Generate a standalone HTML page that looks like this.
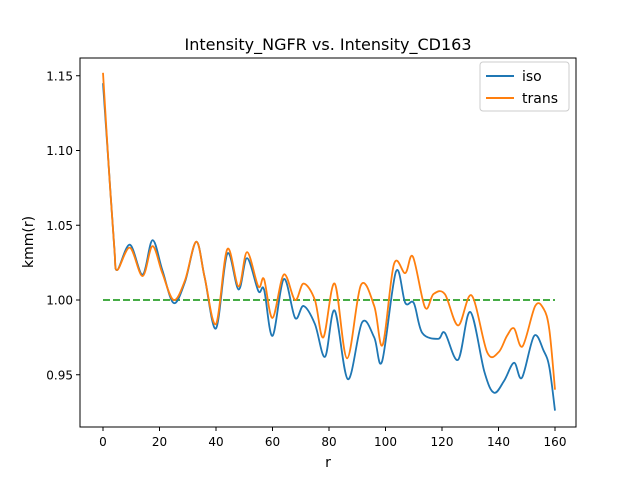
<!DOCTYPE html>
<html><head><meta charset="utf-8"><style>
body{margin:0;background:#fff;font-family:"Liberation Sans","DejaVu Sans",sans-serif}
</style></head><body>
<svg id="chart" width="640" height="480" xmlns="http://www.w3.org/2000/svg" font-family="DejaVu Sans, Liberation Sans, sans-serif">
<rect width="640" height="480" fill="#fff"/>
<text x="328" y="50" text-anchor="middle" font-size="16">Intensity_NGFR vs. Intensity_CD163</text>
<g id="grid"></g>
<g id="series"></g>
<rect x="80" y="58" width="496" height="369" fill="none" stroke="#000" stroke-width="1"/>
<text x="328" y="467" text-anchor="middle" font-size="14">r</text>
<text transform="translate(33,242) rotate(-90)" text-anchor="middle" font-size="14">kmm(r)</text>
<g>
<rect x="480" y="62" width="89" height="49" rx="3" fill="#fff" stroke="#ccc"/>
<line x1="486" y1="76" x2="514" y2="76" stroke="#1f77b4" stroke-width="2"/>
<text x="522" y="81" font-size="14">iso</text>
<line x1="486" y1="98" x2="514" y2="98" stroke="#ff7f0e" stroke-width="2"/>
<text x="522" y="103" font-size="14">trans</text>
</g>
</svg>
<script>
const xTicks=[0,20,40,60,80,100,120,140,160];
const yTicks=[0.95,1.00,1.05,1.10,1.15];
const isoR=[0,2,4,5,9.5,14,17.5,21,25,29,33,36,40,44,48,51,55,57,60,64,68,71,75,78.6,82,86.7,91.7,96,98.8,103.7,107,110,113,118.6,121,125.7,130,135,138.4,142,145.5,148.3,152.6,156,158,160];
const isoV=[1.145,1.09,1.035,1.02,1.037,1.017,1.040,1.020,0.998,1.012,1.039,1.015,0.981,1.031,1.007,1.028,1.006,1.007,0.976,1.014,0.988,0.996,0.984,0.962,0.993,0.947,0.985,0.975,0.959,1.019,0.998,0.998,0.978,0.974,0.978,0.960,0.992,0.952,0.938,0.946,0.958,0.948,0.976,0.966,0.955,0.926];
const transR=[0,2,4,5,9.5,14,17.5,21,25,29,33,36,40,44,48,51,55,57,60,64,68,71,75,78,82,86.4,91.3,96,99,103,107,109.7,114,117,121,125.7,130.5,136,140,143,145.5,148.5,153,156,158,160];
const transV=[1.152,1.09,1.035,1.02,1.035,1.016,1.036,1.018,1.0,1.013,1.039,1.015,0.984,1.034,1.009,1.032,1.009,1.014,0.988,1.017,1.0,1.011,1.0,0.975,1.011,0.961,1.010,0.996,0.970,1.024,1.018,1.029,0.995,1.004,1.004,0.983,1.003,0.965,0.965,0.976,0.981,0.969,0.996,0.994,0.98,0.940];
const refR=[0,160];
const refV=[1.0,1.0];
const NS="http://www.w3.org/2000/svg";
const xs=r=>103+(r/160)*452;
const ys=v=>300-(v-1)*1495;
const grid=document.getElementById('grid');
const ser=document.getElementById('series');
function mk(tag,attrs,parent){const e=document.createElementNS(NS,tag);for(const k in attrs)e.setAttribute(k,attrs[k]);parent.appendChild(e);return e;}
xTicks.forEach(t=>{
  const l=mk('line',{x1:xs(t),x2:xs(t),y1:427,y2:431,stroke:'#000'},grid);
  
  
  const tx=mk('text',{x:xs(t),y:446,'text-anchor':'middle','font-size':12},grid);
  tx.textContent=t;
  
  
});
yTicks.forEach(t=>{
  const l=mk('line',{x1:76,x2:80,y1:ys(t),y2:ys(t),stroke:'#000'},grid);
  
  
  const tx=mk('text',{x:73,y:ys(t)+4.5,'text-anchor':'end','font-size':12},grid);
  tx.textContent=t.toFixed(2);
  
  
});
function smooth(R,V){
  const p=R.map((r,i)=>[xs(r),ys(V[i])]);
  let d='M'+p[0][0]+','+p[0][1];
  for(let i=0;i<p.length-1;i++){
    const p0=p[i-1]||p[i],p1=p[i],p2=p[i+1],p3=p[i+2]||p2;
    const c1=[p1[0]+(p2[0]-p0[0])/6,p1[1]+(p2[1]-p0[1])/6];
    const c2=[p2[0]-(p3[0]-p1[0])/6,p2[1]-(p3[1]-p1[1])/6];
    d+=` C${c1[0]},${c1[1]} ${c2[0]},${c2[1]} ${p2[0]},${p2[1]}`;
  }
  return d;
}
const ref=mk('line',{x1:xs(refR[0]),x2:xs(refR[1]),y1:ys(refV[0]),y2:ys(refV[1]),stroke:'#2ca02c','stroke-width':1.8,'stroke-dasharray':'7,3'},ser);


const iso=mk('path',{d:smooth(isoR,isoV),fill:'none',stroke:'#1f77b4','stroke-width':1.8},ser);


const tr=mk('path',{d:smooth(transR,transV),fill:'none',stroke:'#ff7f0e','stroke-width':1.8},ser);


</script>
</body></html>
